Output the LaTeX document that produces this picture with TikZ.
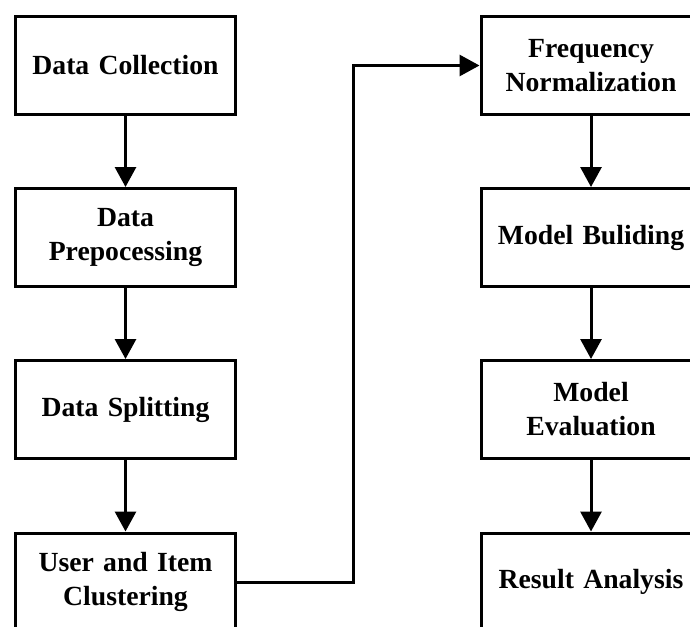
\documentclass[tikz,border=0pt]{standalone}
\usepackage{fontspec}
\setmainfont[WordSpace=0.85]{Liberation Serif}
\usetikzlibrary{arrows.meta}
\begin{document}
\begin{tikzpicture}[x=1pt,y=-1pt,
  box/.style={draw=black,line width=3pt,fill=white,minimum width=220pt,minimum height=98pt,
    text width=215pt,align=center,inner sep=0pt,
    font=\bfseries\fontsize{27.7}{34}\selectfont},
  conn/.style={line width=3pt,-{Triangle[length=20pt,width=21pt]}}]
\useasboundingbox (0,0) rectangle (690,626);
\node[box] (a1) at (125.5,65.5) {Data Collection};
\node[box] (a2) at (125.5,237.5) {Data\\Prepocessing};
\node[box] (a3) at (125.5,409.5) {Data Splitting};
\node[box] (a4) at (125.5,582) {User and Item\\Clustering};
\node[box] (b1) at (591,65.5) {Frequency\\Normalization};
\node[box] (b2) at (591,237.5) {Model Buliding};
\node[box] (b3) at (591,409.5) {Model\\Evaluation};
\node[box] (b4) at (591,582) {Result Analysis};
\coordinate (bend) at (353,65.5);
\draw[conn] (a1) -- (a2);
\draw[conn] (a2) -- (a3);
\draw[conn] (a3) -- (a4);
\draw[conn] (b1) -- (b2);
\draw[conn] (b2) -- (b3);
\draw[conn] (b3) -- (b4);
\draw[conn] (a4.east) -| (bend) -- (b1.west);
\end{tikzpicture}
\end{document}
